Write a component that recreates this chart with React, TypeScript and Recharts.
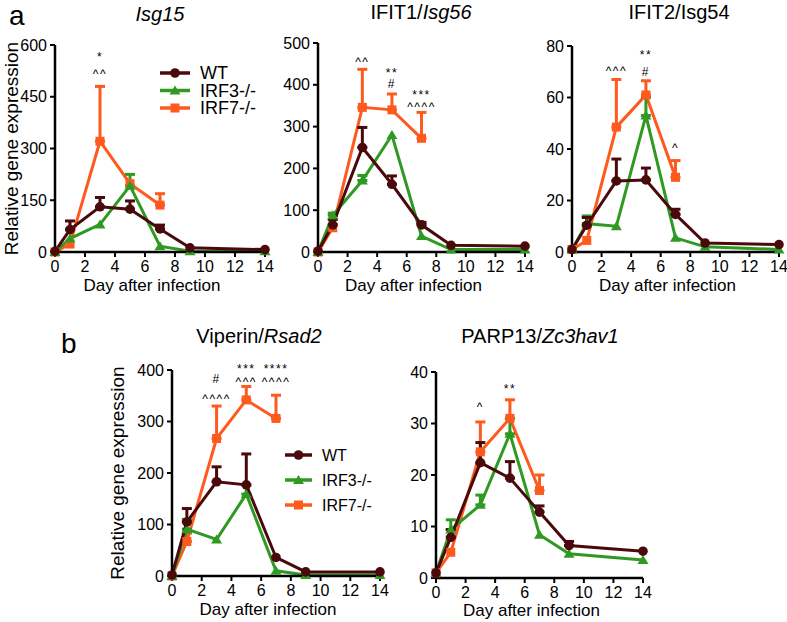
import React from 'react';
import { LineChart, Line, XAxis, YAxis, ErrorBar, ReferenceDot, Legend } from 'recharts';

const WT_COLOR = '#4a0a0c';
const IRF3_COLOR = '#2f9a22';
const IRF7_COLOR = '#ff5a1e';
const FONT = '"Liberation Sans", Arial, Helvetica, sans-serif';

const days = [0, 1, 3, 5, 7, 9, 14];
const dayTicks = [0, 2, 4, 6, 8, 10, 12, 14];

// Isg15
const isg15Wt = [2, 65, 131, 124, 67, 12, 7];
const isg15WtErr = [null, 25, 27, 24, 11, null, null];
const isg15Irf3 = [0, 39, 80, 192, 17, 2, 2];
const isg15Irf3Err = [null, null, null, 33, null, null, null];
const isg15Irf7 = [0, 23, 321, 198, 136, null, null];
const isg15Irf7Err = [null, null, 159, null, 33, null, null];
const isg15Ticks = [0, 150, 300, 450, 600];

// IFIT1/Isg56
const ifit1Wt = [2, 65, 250, 162, 65, 16, 14];
const ifit1WtErr = [null, 13, 48, 20, 6, null, null];
const ifit1Irf3 = [0, 88, 171, 280, 38, 6, 6];
const ifit1Irf3Err = [null, 5, 12, null, null, null, null];
const ifit1Irf7 = [0, 58, 346, 340, 272, null, null];
const ifit1Irf7Err = [null, null, 91, 38, 62, null, null];
const ifit1Ticks = [0, 100, 200, 300, 400, 500];

// IFIT2/Isg54
const ifit2Wt = [1, 10.4, 27.6, 28, 14.6, 3.5, 2.9];
const ifit2WtErr = [null, 3, 8.5, 4.6, 2, null, null];
const ifit2Irf3 = [1, 11, 10, 53, 5.5, 2, 1];
const ifit2Irf3Err = [null, 3, null, 7, null, null, null];
const ifit2Irf7 = [1, 4.5, 48.5, 61, 29, null, null];
const ifit2Irf7Err = [null, null, 18.5, 5.5, 6.5, null, null];
const ifit2Ticks = [0, 20, 40, 60, 80];

// Viperin/Rsad2
const rsad2Wt = [2, 105, 183, 177, 36, 8, 8];
const rsad2WtErr = [null, 26, 29, 60, null, null, null];
const rsad2Irf3 = [0, 91, 71, 159, 10, 2, 2];
const rsad2Irf3Err = [null, 19, null, 18, null, null, null];
const rsad2Irf7 = [0, 67, 267, 342, 306, null, null];
const rsad2Irf7Err = [null, 16, 63, 26, 45, null, null];
const rsad2Ticks = [0, 100, 200, 300, 400];

// PARP13/Zc3hav1
const zc3Wt = [1, 7.9, 22.4, 19.4, 12.8, 6.3, 5.2];
const zc3WtErr = [null, 1.5, 3.9, 3.2, 1.2, 0.8, null];
const zc3Irf3 = [1, 9.4, 14.2, 28, 8.4, 4.7, 3.5];
const zc3Irf3Err = [null, 1.9, 1.9, 3, null, null, null];
const zc3Irf7 = [1, 5, 24.5, 31, 17, null, null];
const zc3Irf7Err = [null, null, 5.8, 3.6, 3, null, null];
const zc3Ticks = [0, 10, 20, 30, 40];

// significance marks: day, height in data units, text
const isg15Notes = [
  { x: 3, y: 566, text: '*' },
  { x: 3, y: 516, text: '^^' },
];
const ifit1Notes = [
  { x: 3, y: 455, text: '^^' },
  { x: 5, y: 430, text: '**' },
  { x: 5, y: 403, text: '#' },
  { x: 7, y: 377, text: '***' },
  { x: 7, y: 347, text: '^^^^' },
];
const ifit2Notes = [
  { x: 3, y: 70.5, text: '^^^' },
  { x: 5, y: 76.5, text: '**' },
  { x: 5, y: 70, text: '#' },
  { x: 7, y: 40.5, text: '^' },
];
const rsad2Notes = [
  { x: 3, y: 383, text: '#' },
  { x: 3, y: 345, text: '^^^^' },
  { x: 5, y: 402, text: '***' },
  { x: 5, y: 377, text: '^^^' },
  { x: 7, y: 402, text: '****' },
  { x: 7, y: 377, text: '^^^^' },
];
const zc3Notes = [
  { x: 3, y: 33.2, text: '^' },
  { x: 5, y: 36.8, text: '**' },
];

const seriesNames = ['WT', 'IRF3-/-', 'IRF7-/-'];

const toErr = (e: number | null) => (e == null ? undefined : [0, e]);

const makeRows = (
  wt: number[], wtErr: (number | null)[],
  irf3: number[], irf3Err: (number | null)[],
  irf7: (number | null)[], irf7Err: (number | null)[],
) =>
  days.map((day, i) => ({
    day,
    wt: wt[i],
    wtE: toErr(wtErr[i]),
    irf3: irf3[i],
    irf3E: toErr(irf3Err[i]),
    irf7: irf7[i],
    irf7E: toErr(irf7Err[i]),
  }));

const circleDot = (p: any) =>
  p.cy == null ? <g key={p.index} /> : <circle key={p.index} cx={p.cx} cy={p.cy} r={4.8} fill={WT_COLOR} />;

const triangleDot = (p: any) =>
  p.cy == null ? (
    <g key={p.index} />
  ) : (
    <polygon
      key={p.index}
      points={`${p.cx},${p.cy - 5} ${p.cx - 5.5},${p.cy + 4} ${p.cx + 5.5},${p.cy + 4}`}
      fill={IRF3_COLOR}
    />
  );

const squareDot = (p: any) =>
  p.cy == null ? <g key={p.index} /> : <rect key={p.index} x={p.cx - 4.5} y={p.cy - 4.5} width={9} height={9} fill={IRF7_COLOR} />;

const markerFor = (i: number, x: number, y: number) => {
  if (i === 0) return <circle cx={x} cy={y} r={4.8} fill={WT_COLOR} />;
  if (i === 1) return <polygon points={`${x},${y - 5} ${x - 5.5},${y + 4} ${x + 5.5},${y + 4}`} fill={IRF3_COLOR} />;
  return <rect x={x - 4.5} y={y - 4.5} width={9} height={9} fill={IRF7_COLOR} />;
};

const colors = [WT_COLOR, IRF3_COLOR, IRF7_COLOR];

const legendContent = (lineLen: number, gap: number, fontSize: number) => () => (
  <svg width={130} height={gap * 3 + 4} style={{ overflow: 'visible' }}>
    {seriesNames.map((name, i) => {
      const y = 9 + i * gap;
      return (
        <g key={name}>
          <line x1={0} x2={lineLen} y1={y} y2={y} stroke={colors[i]} strokeWidth={3.5} />
          {markerFor(i, lineLen / 2, y)}
          <text x={lineLen + 10} y={y} dy="0.36em" fontSize={fontSize} fill="#000" fontFamily={FONT}>
            {name}
          </text>
        </g>
      );
    })}
  </svg>
);

type Note = { x: number; y: number; text: string };

type PanelProps = {
  left: number;
  top: number;
  width: number;
  height: number;
  margin: { top: number; right: number; bottom: number; left: number };
  yAxisWidth: number;
  rows: any[];
  yTicks: number[];
  notes: Note[];
  yLabel?: { offset: number };
  xLabelOffset: number;
  legend?: { left: number; top: number; lineLen: number; gap: number; fontSize: number };
};

const axisLine = { stroke: '#000', strokeWidth: 2.5 };
const tickLine = { stroke: '#000', strokeWidth: 2 };

const Panel: React.FC<PanelProps> = ({ left, top, width, height, margin, yAxisWidth, rows, yTicks, notes, yLabel, xLabelOffset, legend }) => (
  <div style={{ position: 'absolute', left, top }}>
    <LineChart width={width} height={height} data={rows} margin={margin}>
      <XAxis
        type="number"
        dataKey="day"
        domain={[0, 14]}
        ticks={dayTicks}
        height={40}
        axisLine={axisLine}
        tickLine={tickLine}
        tickSize={5}
        tickMargin={4}
        tick={{ fill: '#000', fontSize: 16 }}
        label={{ value: 'Day after infection', position: 'insideBottom', offset: xLabelOffset, dx: -8, fontSize: 17, fill: '#000' }}
      />
      <YAxis
        type="number"
        domain={[0, yTicks[yTicks.length - 1]]}
        ticks={yTicks}
        width={yAxisWidth}
        axisLine={axisLine}
        tickLine={tickLine}
        tickSize={5}
        tickMargin={3}
        tick={{ fill: '#000', fontSize: 16 }}
        label={
          yLabel
            ? {
                value: 'Relative gene expression',
                angle: -90,
                position: 'insideLeft',
                offset: yLabel.offset,
                fontSize: 19,
                fill: '#000',
                style: { textAnchor: 'middle' },
              }
            : undefined
        }
      />
      <Line type="linear" dataKey="irf7" stroke={IRF7_COLOR} strokeWidth={3} dot={squareDot} activeDot={false} isAnimationActive={false}>
        <ErrorBar dataKey="irf7E" direction="y" width={5} strokeWidth={3} stroke={IRF7_COLOR} />
      </Line>
      <Line type="linear" dataKey="irf3" stroke={IRF3_COLOR} strokeWidth={3} dot={triangleDot} activeDot={false} isAnimationActive={false}>
        <ErrorBar dataKey="irf3E" direction="y" width={5} strokeWidth={3} stroke={IRF3_COLOR} />
      </Line>
      <Line type="linear" dataKey="wt" stroke={WT_COLOR} strokeWidth={3} dot={circleDot} activeDot={false} isAnimationActive={false}>
        <ErrorBar dataKey="wtE" direction="y" width={5} strokeWidth={3} stroke={WT_COLOR} />
      </Line>
      {notes.map((n, i) => (
        <ReferenceDot
          key={i}
          x={n.x}
          y={n.y}
          r={0}
          fill="none"
          stroke="none"
          ifOverflow="visible"
          label={{ value: n.text, position: 'center', fontSize: 12, fill: '#000', style: { letterSpacing: '1.5px' } }}
        />
      ))}
      {legend && (
        <Legend
          layout="vertical"
          align="center"
          verticalAlign="middle"
          content={legendContent(legend.lineLen, legend.gap, legend.fontSize)}
          wrapperStyle={{ left: legend.left, top: legend.top, width: 130 }}
        />
      )}
    </LineChart>
  </div>
);

const Title: React.FC<{ cx: number; baseline: number; children: React.ReactNode }> = ({ cx, baseline, children }) => (
  <div
    style={{
      position: 'absolute',
      left: cx - 120,
      width: 240,
      top: baseline - 17,
      textAlign: 'center',
      fontSize: 20,
      lineHeight: '20px',
      whiteSpace: 'nowrap',
    }}
  >
    {children}
  </div>
);

const PanelLetter: React.FC<{ x: number; baseline: number; text: string }> = ({ x, baseline, text }) => (
  <div style={{ position: 'absolute', left: x, top: baseline - 25, fontSize: 28, lineHeight: '28px' }}>{text}</div>
);

export default function App() {
  const isg15Rows = makeRows(isg15Wt, isg15WtErr, isg15Irf3, isg15Irf3Err, isg15Irf7, isg15Irf7Err);
  const ifit1Rows = makeRows(ifit1Wt, ifit1WtErr, ifit1Irf3, ifit1Irf3Err, ifit1Irf7, ifit1Irf7Err);
  const ifit2Rows = makeRows(ifit2Wt, ifit2WtErr, ifit2Irf3, ifit2Irf3Err, ifit2Irf7, ifit2Irf7Err);
  const rsad2Rows = makeRows(rsad2Wt, rsad2WtErr, rsad2Irf3, rsad2Irf3Err, rsad2Irf7, rsad2Irf7Err);
  const zc3Rows = makeRows(zc3Wt, zc3WtErr, zc3Irf3, zc3Irf3Err, zc3Irf7, zc3Irf7Err);

  return (
    <div
      style={{
        position: 'absolute',
        left: 0,
        top: 0,
        width: 787,
        height: 622,
        background: '#fff',
        fontFamily: FONT,
        color: '#000',
        overflow: 'hidden',
      }}
    >
      <PanelLetter x={9} baseline={27} text="a" />
      <PanelLetter x={61} baseline={355} text="b" />

      <Title cx={160} baseline={21}>
        <i>Isg15</i>
      </Title>
      <Title cx={421} baseline={19}>
        IFIT1/<i>Isg56</i>
      </Title>
      <Title cx={679} baseline={19}>
        IFIT2/Isg54
      </Title>
      <Title cx={259} baseline={343}>
        Viperin/<i>Rsad2</i>
      </Title>
      <Title cx={540} baseline={343}>
        PARP13/<i>Zc3hav1</i>
      </Title>

      <Panel
        left={0}
        top={0}
        width={290}
        height={300}
        margin={{ top: 45, right: 25, bottom: 8, left: 0 }}
        yAxisWidth={55}
        rows={isg15Rows}
        yTicks={isg15Ticks}
        notes={isg15Notes}
        yLabel={{ offset: 11 }}
        xLabelOffset={1}
        legend={{ left: 160, top: 64, lineLen: 30, gap: 17.5, fontSize: 18 }}
      />
      <Panel
        left={270}
        top={0}
        width={280}
        height={300}
        margin={{ top: 43, right: 25, bottom: 8, left: 0 }}
        yAxisWidth={48}
        rows={ifit1Rows}
        yTicks={ifit1Ticks}
        notes={ifit1Notes}
        xLabelOffset={1}
      />
      <Panel
        left={530}
        top={0}
        width={257}
        height={300}
        margin={{ top: 46, right: 8, bottom: 8, left: 0 }}
        yAxisWidth={42}
        rows={ifit2Rows}
        yTicks={ifit2Ticks}
        notes={ifit2Notes}
        xLabelOffset={1}
      />
      <Panel
        left={100}
        top={320}
        width={300}
        height={300}
        margin={{ top: 50, right: 20, bottom: 4, left: 0 }}
        yAxisWidth={72}
        rows={rsad2Rows}
        yTicks={rsad2Ticks}
        notes={rsad2Notes}
        yLabel={{ offset: 17 }}
        xLabelOffset={1}
        legend={{ left: 185, top: 126, lineLen: 27, gap: 25, fontSize: 16 }}
      />
      <Panel
        left={400}
        top={320}
        width={280}
        height={300}
        margin={{ top: 52, right: 37, bottom: 2, left: 0 }}
        yAxisWidth={36}
        rows={zc3Rows}
        yTicks={zc3Ticks}
        notes={zc3Notes}
        xLabelOffset={2}
      />
    </div>
  );
}
